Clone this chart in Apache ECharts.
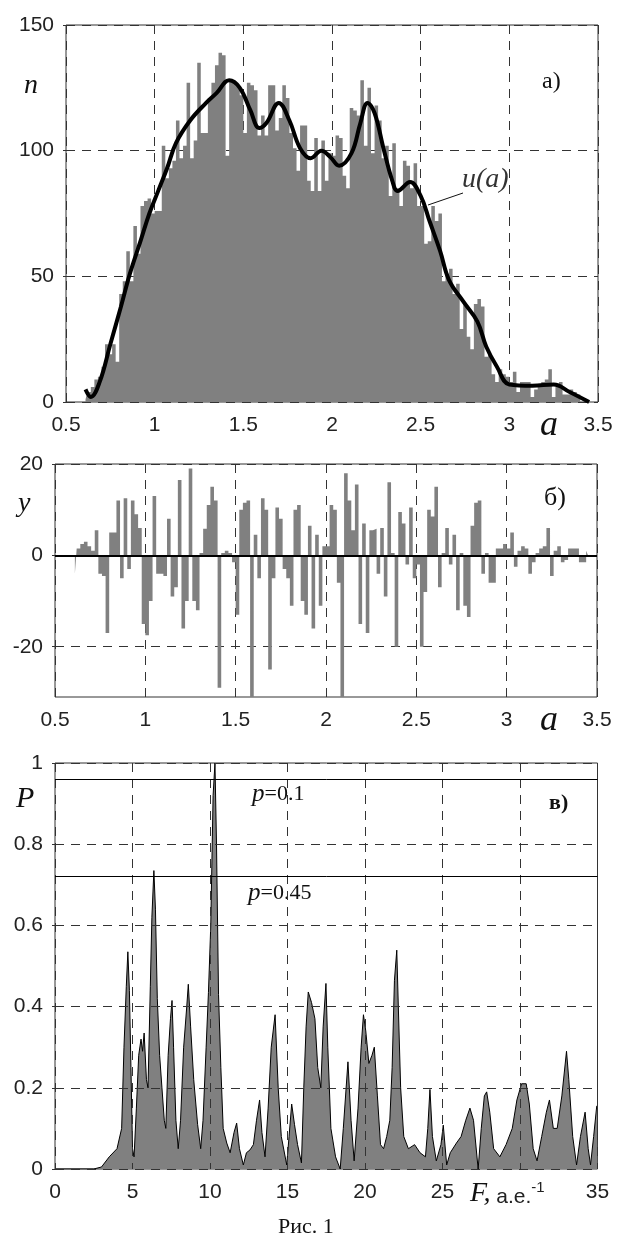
<!DOCTYPE html>
<html>
<head>
<meta charset="utf-8">
<script src="https://cdn.jsdelivr.net/npm/echarts@6/dist/echarts.min.js"></script>
<style>
  html, body { margin: 0; padding: 0; background: #fff; }
  #chart { width: 619px; height: 1240px; }
</style>
</head>
<body>
<div id="chart"></div>
<script>
// histogram bins (panel a) and residuals (panel b) share the same bins
const binStart = 0.60;
const binWidth = 0.02;
const histCounts = [
  1, 4, 6, 9, 10, 14, 23, 19, 23, 16,
  43, 48, 60, 48, 70, 59, 78, 80, 81, 75,
  76, 76, 102, 89, 93, 96, 112, 97, 102, 127,
  97, 104, 135, 107, 107, 121, 127, 134, 139, 138,
  98, 128, 127, 126, 122, 107, 127, 126, 124, 106,
  114, 106, 126, 126, 108, 113, 126, 121, 107, 101,
  92, 110, 110, 88, 84, 105, 84, 104, 88, 99,
  98, 106, 105, 90, 85, 117, 116, 114, 128, 102,
  125, 99, 118, 112, 97, 102, 82, 103, 85, 78,
  96, 94, 85, 95, 78, 78, 63, 64, 78, 72,
  75, 48, 51, 53, 43, 47, 29, 39, 26, 21,
  39, 41, 38, 18, 19, 11, 8, 13, 11, 10,
  8, 12, 4, 8, 8, 8, 2, 5, 7, 8,
  9, 13, 2, 7, 8, 3, 3, 5, 4, 3,
  0, 0, 1
];
const residuals = [
  -4, 1.5, 2.5, 3, 2, 1, 5.5, -4, -4.5, -17,
  5, 5, 12, -5, 12.5, -3, 12, 9, 6, -15,
  -17.5, -10, 13, -4, -4, -4.5, 8, -9, -7, 16.5,
  -16, -10, 19, -10, -12, 0.5, 5.8, 11, 15, 12,
  -29, 0.5, 1, 0.5, -1.5, -13, 10, 11.5, 12, -33,
  4.5, -5, 12.5, 10, -25, -5, 10.5, 8, -3, -5,
  -11, 10, 11, -10, -13, 6.5, -16, 4.5, -11, 2,
  2, 11, 10, -6, -33, 18, 12, 5.5, 15.5, -15,
  7, -17, 5.5, 5.8, -4, 6, -9, 16, 0.5, -20,
  9.5, 7, -2, 10.5, -5, -2, -20, -8, 10, 8.5,
  15, -7, 0.5, 6, -2, 4.5, -12, 0.5, -11, -13.5,
  6.5, 11.5, 12, -4, 0.5, -6, -6, 1.5, 1.5, 2.5,
  1.5, 5, -2.5, 1, 2, 1.5, -4, -1.5, 0.5, 1.5,
  2, 6, -4.5, 1, 2, -1.5, -1, 1.5, 1.5, 1.5,
  -1.5, -1.5, 1
];
// smooth curve u(a)
const curveA = [0.61, 0.64, 0.69, 0.75, 0.81, 0.86, 0.92, 0.97, 1.02, 1.07, 1.12, 1.2, 1.29, 1.35, 1.42, 1.48,
  1.54, 1.59, 1.63, 1.70, 1.76, 1.82, 1.88, 1.94, 1.99, 2.04, 2.11, 2.16, 2.2, 2.24, 2.29, 2.34, 2.37,
  2.44, 2.5, 2.55, 2.61, 2.66, 2.74, 2.82, 2.87, 2.93, 3.0, 3.13, 3.25, 3.34, 3.45];
const curveU = [5, 2, 8, 23, 38, 51, 64, 75, 84, 93, 103, 112, 119, 123, 128, 125,
  116, 109, 111, 119, 112, 101, 97, 100, 97.5, 94, 99, 111, 119, 115, 101, 88, 84,
  87.5, 82, 72, 60, 48.5, 40, 32, 22, 14, 7, 6.5, 7, 4, 0];
// periodogram P(F), panel c
const spectrum = [
  [0, 0], [2.5, 0], [3.0, 0.005], [3.5, 0.03], [4.0, 0.05], [4.3, 0.1], [4.45, 0.3], [4.6, 0.45], [4.7, 0.535],
  [4.8, 0.44], [4.9, 0.25], [5.0, 0.05], [5.1, 0.03], [5.25, 0.15], [5.4, 0.28], [5.55, 0.32], [5.65, 0.29],
  [5.75, 0.335], [5.9, 0.22], [6.0, 0.2], [6.15, 0.45], [6.25, 0.62], [6.38, 0.735], [6.48, 0.64], [6.6, 0.42],
  [6.75, 0.28], [6.9, 0.2], [7.05, 0.12], [7.15, 0.1], [7.3, 0.28], [7.45, 0.37], [7.55, 0.415], [7.65, 0.3],
  [7.8, 0.12], [7.95, 0.05], [8.1, 0.12], [8.3, 0.3], [8.5, 0.4], [8.6, 0.455], [8.75, 0.35], [8.95, 0.22],
  [9.2, 0.11], [9.4, 0.05], [9.55, 0.12], [9.75, 0.3], [9.9, 0.435], [10.05, 0.6], [10.2, 0.92], [10.32, 1.0],
  [10.42, 0.8], [10.55, 0.43], [10.7, 0.25], [10.85, 0.1], [11.08, 0.064], [11.3, 0.04], [11.55, 0.09],
  [11.72, 0.113], [11.9, 0.05], [12.15, 0.01], [12.35, 0.04], [12.58, 0.047], [12.8, 0.06], [13.0, 0.12],
  [13.2, 0.17], [13.35, 0.09], [13.55, 0.03], [13.75, 0.15], [13.95, 0.3], [14.2, 0.38], [14.4, 0.2],
  [14.6, 0.08], [14.95, 0.01], [15.1, 0.08], [15.27, 0.16], [15.45, 0.11], [15.65, 0.06], [15.9, 0.015],
  [16.05, 0.2], [16.2, 0.35], [16.34, 0.436], [16.55, 0.41], [16.77, 0.37], [16.95, 0.25], [17.15, 0.2],
  [17.3, 0.35], [17.48, 0.457], [17.6, 0.3], [17.8, 0.1], [18.1, 0.03], [18.4, 0.0], [18.6, 0.1], [18.9, 0.264],
  [19.1, 0.12], [19.3, 0.02], [19.55, 0.15], [19.75, 0.3], [19.9, 0.38], [20.05, 0.34], [20.25, 0.26],
  [20.45, 0.28], [20.6, 0.3], [20.8, 0.18], [21.0, 0.06], [21.2, 0.05], [21.4, 0.08], [21.6, 0.12],
  [21.75, 0.25], [21.9, 0.465], [22.05, 0.539], [22.15, 0.4], [22.3, 0.2], [22.5, 0.08], [22.8, 0.05],
  [23.2, 0.06], [23.55, 0.04], [23.9, 0.03], [24.05, 0.1], [24.19, 0.196], [24.35, 0.08], [24.6, 0.02],
  [24.9, 0.06], [25.05, 0.108], [25.27, 0.01], [25.5, 0.04], [25.9, 0.064], [26.2, 0.08], [26.5, 0.12],
  [26.77, 0.15], [27.0, 0.12], [27.3, 0.0], [27.5, 0.1], [27.7, 0.18], [27.85, 0.19], [28.05, 0.14],
  [28.3, 0.05], [28.7, 0.03], [29.1, 0.06], [29.5, 0.1], [29.8, 0.17], [30.1, 0.21], [30.4, 0.21],
  [30.6, 0.16], [30.85, 0.05], [31.1, 0.02], [31.4, 0.08], [31.7, 0.14], [31.9, 0.17], [32.15, 0.1],
  [32.4, 0.1], [32.7, 0.18], [33.0, 0.29], [33.15, 0.22], [33.4, 0.08], [33.65, 0.01], [33.9, 0.08],
  [34.2, 0.14], [34.4, 0.05], [34.55, 0.01], [34.75, 0.08], [34.95, 0.155], [35, 0.155]
];
const pThresholds = [0.957, 0.716];
const yTicksB = [-20, 0, 20];

const chart = echarts.init(document.getElementById("chart"));

const sans = "'Liberation Sans', Arial, sans-serif";
const serif = "'Liberation Serif', 'Times New Roman', serif";
const gray = "#808080";
const dash = { type: [9, 7], color: "#333", width: 1 };
const tickLabel = { fontFamily: sans, fontSize: 21, color: "#222" };

const binCenters = histCounts.map((_, i) => +(binStart + binWidth * (i + 0.5)).toFixed(3));

function xAx(grid, min, max, interval, extra) {
  return Object.assign({
    gridIndex: grid, type: "value", min, max, interval,
    axisLine: { show: false },
    axisTick: { show: false },
    splitLine: { show: true, lineStyle: dash },
    axisLabel: Object.assign({ margin: 13 }, tickLabel)
  }, extra || {});
}
function yAx(grid, min, max, interval, extra) {
  return Object.assign({
    gridIndex: grid, type: "value", min, max, interval,
    axisLine: { show: false },
    axisTick: { show: true, length: 3, lineStyle: { color: "#333" } },
    splitLine: { show: true, lineStyle: dash },
    axisLabel: Object.assign({ margin: 12 }, tickLabel)
  }, extra || {});
}

const frame = { show: true, borderColor: "#333", borderWidth: 1, backgroundColor: "transparent" };

chart.setOption({
  animation: false,
  backgroundColor: "#fff",
  grid: [
    Object.assign({ left: 66, top: 25, width: 532, height: 377 }, frame),
    Object.assign({ left: 55, top: 464, width: 542, height: 233 }, frame),
    Object.assign({ left: 55, top: 763, width: 542.5, height: 406 }, frame)
  ],
  xAxis: [
    xAx(0, 0.5, 3.5, 0.5),
    xAx(1, 0.5, 3.5, 0.5),
    xAx(2, 0, 35, 5, {
      z: 5,
      axisLabel: Object.assign({ margin: 13, formatter: v => (v === 30 ? "" : v) }, tickLabel)
    })
  ],
  yAxis: [
    yAx(0, 0, 150, 50),
    yAx(1, -31, 20, null, {
      axisLabel: Object.assign({ margin: 12, customValues: yTicksB }, tickLabel),
      axisTick: { show: true, length: 3, customValues: yTicksB, lineStyle: { color: "#333" } }
    }),
    yAx(2, 0, 1, 0.2, { z: 5 })
  ],
  series: [
    {
      type: "line", xAxisIndex: 0, yAxisIndex: 0, step: "middle", symbol: "none",
      data: binCenters.map((a, i) => [a, histCounts[i]]),
      lineStyle: { width: 0 },
      areaStyle: { color: gray, opacity: 1 },
      z: 1
    },
    {
      type: "line", xAxisIndex: 0, yAxisIndex: 0, smooth: 0.4, symbol: "none",
      data: curveA.map((a, i) => [a, curveU[i]]),
      lineStyle: { color: "#000", width: 4 },
      z: 3
    },
    {
      type: "line", xAxisIndex: 1, yAxisIndex: 1, step: "middle", symbol: "none",
      data: binCenters.map((a, i) => [a, residuals[i]]),
      lineStyle: { width: 0 },
      areaStyle: { color: gray, opacity: 1, origin: 0 },
      markLine: {
        silent: true, symbol: ["none", "none"], label: { show: false },
        lineStyle: { color: "#000", width: 2, type: "solid" },
        data: [{ yAxis: 0 }]
      }
    },
    {
      type: "line", xAxisIndex: 2, yAxisIndex: 2, symbol: "none",
      data: spectrum,
      lineStyle: { color: "#000", width: 1 },
      areaStyle: { color: gray, opacity: 1 },
      markLine: {
        silent: true, symbol: ["none", "none"], label: { show: false },
        lineStyle: { color: "#000", width: 1, type: "solid" },
        data: pThresholds.map(v => ({ yAxis: v }))
      }
    }
  ],
  graphic: [
    // panel a
    { type: "text", left: 24, top: 72, style: { text: "n", font: "italic 28px " + serif, fill: "#111" } },
    { type: "text", left: 542, top: 70, style: { text: "a)", font: "24px " + serif, fill: "#111" } },
    { type: "text", left: 462, top: 166, style: { text: "u(a)", font: "italic 28px " + serif, fill: "#333" } },
    { type: "line", shape: { x1: 428, y1: 205, x2: 463, y2: 193 }, style: { stroke: "#111", lineWidth: 1 } },
    { type: "text", left: 540, top: 408, style: { text: "a", font: "italic 36px " + serif, fill: "#111" } },
    // panel b
    { type: "text", left: 18, top: 490, style: { text: "y", font: "italic 28px " + serif, fill: "#111" } },
    { type: "text", left: 544, top: 485, style: { text: "б)", font: "26px " + serif, fill: "#111" } },
    { type: "text", left: 540, top: 703, style: { text: "a", font: "italic 36px " + serif, fill: "#111" } },
    // panel c
    { type: "text", left: 16, top: 784, style: { text: "P", font: "italic 30px " + serif, fill: "#111" } },
    { type: "text", left: 549, top: 792, style: { text: "в)", font: "bold 22px " + serif, fill: "#111" } },
    {
      type: "text", left: 252, top: 782,
      style: {
        text: "{i|p}{r|=0.1}",
        rich: { i: { font: "italic 25px " + serif, fill: "#111" }, r: { font: "22px " + serif, fill: "#111" } }
      }
    },
    {
      type: "text", left: 248, top: 881,
      style: {
        text: "{i|p}{r|=0.45}",
        rich: { i: { font: "italic 25px " + serif, fill: "#111" }, r: { font: "22px " + serif, fill: "#111" } }
      }
    },
    {
      type: "text", left: 470, top: 1180,
      style: {
        text: "{i|F,}{r| a.e.}{s|-1}",
        rich: {
          i: { font: "italic 28px " + serif, fill: "#111", verticalAlign: "bottom" },
          r: { font: "21px " + sans, fill: "#222", verticalAlign: "bottom" },
          s: { font: "15px " + sans, fill: "#222", verticalAlign: "top", padding: [0, 0, 10, 0] }
        }
      }
    },
    { type: "text", left: 278, top: 1216, style: { text: "Рис. 1", font: "22px " + serif, fill: "#111" } }
  ]
});
</script>
</body>
</html>
